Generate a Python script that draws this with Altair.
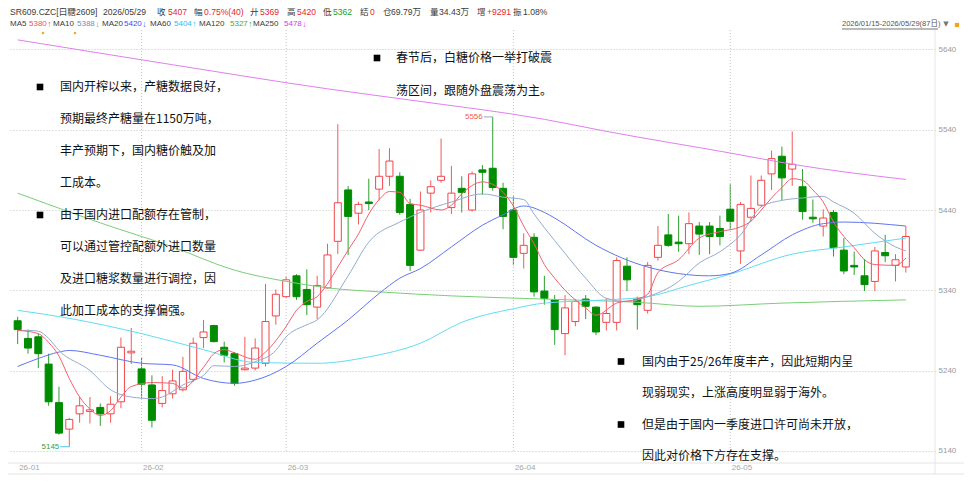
import altair as alt
import pandas as pd

# ---------------- data ----------------
opens = [5302, 5280, 5282, 5248, 5200, 5167, 5186, 5189, 5194, 5186,
         5201, 5262, 5242, 5222, 5199, 5211, 5216, 5229, 5281, 5296,
         5269, 5261, 5241, 5243, 5249, 5308, 5332, 5358, 5341, 5319,
         5343, 5401, 5465, 5436, 5450, 5466, 5482, 5482, 5447, 5390,
         5461, 5477, 5443, 5467, 5440, 5490, 5492, 5467, 5440, 5386,
         5406, 5339, 5328, 5286, 5301, 5329, 5319, 5300, 5300, 5370,
         5329, 5315, 5381, 5409, 5400, 5398, 5420, 5420, 5417, 5441,
         5389, 5431, 5446, 5485, 5507, 5491, 5469, 5431, 5420, 5437,
         5390, 5371, 5358, 5351, 5387, 5371, 5369]
highs = [5307, 5291, 5286, 5261, 5220, 5181, 5207, 5207, 5199, 5208,
         5281, 5293, 5256, 5234, 5233, 5241, 5257, 5281, 5303, 5297,
         5276, 5263, 5282, 5280, 5348, 5341, 5357, 5360, 5366, 5358,
         5398, 5547, 5470, 5450, 5479, 5516, 5517, 5487, 5454, 5463,
         5477, 5529, 5495, 5482, 5488, 5496, 5556, 5474, 5457, 5411,
         5411, 5358, 5334, 5334, 5329, 5334, 5320, 5330, 5381, 5381,
         5332, 5375, 5420, 5435, 5433, 5437, 5425, 5425, 5433, 5472,
         5450, 5483, 5483, 5514, 5519, 5538, 5491, 5453, 5441, 5440,
         5405, 5388, 5379, 5394, 5409, 5385, 5420]
lows = [5273, 5261, 5243, 5196, 5160, 5145, 5175, 5174, 5171, 5175,
        5193, 5248, 5205, 5169, 5194, 5205, 5214, 5226, 5268, 5275,
        5250, 5221, 5240, 5240, 5245, 5297, 5330, 5328, 5309, 5304,
        5342, 5385, 5384, 5422, 5440, 5452, 5470, 5434, 5364, 5389,
        5437, 5474, 5435, 5437, 5438, 5459, 5464, 5416, 5371, 5367,
        5332, 5322, 5272, 5259, 5295, 5304, 5284, 5290, 5290, 5339,
        5291, 5311, 5377, 5394, 5388, 5385, 5384, 5385, 5396, 5415,
        5373, 5426, 5444, 5465, 5452, 5470, 5428, 5424, 5407, 5382,
        5360, 5359, 5339, 5339, 5375, 5351, 5362]
closes = [5291, 5268, 5261, 5201, 5162, 5179, 5196, 5191, 5186, 5198,
          5269, 5264, 5223, 5178, 5215, 5227, 5239, 5274, 5288, 5276,
          5259, 5224, 5243, 5268, 5301, 5335, 5353, 5332, 5322, 5346,
          5384, 5449, 5432, 5447, 5448, 5482, 5501, 5437, 5371, 5440,
          5469, 5482, 5461, 5462, 5485, 5487, 5468, 5432, 5381, 5396,
          5338, 5330, 5291, 5318, 5326, 5320, 5288, 5311, 5377, 5353,
          5322, 5371, 5396, 5396, 5398, 5423, 5410, 5407, 5407, 5426,
          5447, 5442, 5477, 5504, 5480, 5497, 5438, 5429, 5430, 5393,
          5364, 5369, 5347, 5389, 5383, 5378, 5407]

month_labels = ["26-01", "26-02", "26-03", "26-04", "26-05"]
month_index = [0, 12, 26, 48, 69]

ma5_idx = [0, 2, 3, 4, 5, 6, 7, 8, 9, 10, 11, 13, 15, 16, 18, 19, 20, 21, 23, 24,
           26, 27, 28, 29, 30, 31, 32, 33, 34, 35, 36, 37, 38, 39, 41, 42, 43, 45, 46, 47,
           48, 49, 50, 51, 52, 53, 55, 56, 58, 60, 61, 62, 64, 66, 68, 70, 71, 72, 73, 74,
           75, 76, 77, 78, 79, 80, 81, 82, 83, 85, 86]
ma5_val = [5290, 5286, 5275, 5258, 5230, 5207, 5192, 5184, 5190, 5207, 5220, 5225, 5224, 5218, 5244, 5261, 5266, 5262, 5254, 5263,
           5295, 5315, 5326, 5332, 5348, 5369, 5390, 5410, 5435, 5453, 5463, 5462, 5448, 5446, 5440, 5446, 5460, 5475, 5472, 5462,
           5445, 5420, 5398, 5372, 5355, 5340, 5318, 5309, 5324, 5329, 5335, 5362, 5378, 5405, 5413, 5419, 5426, 5440, 5455, 5468,
           5479, 5477, 5465, 5450, 5425, 5407, 5393, 5378, 5372, 5371, 5380]

ma10_idx = [0, 1, 2, 3, 4, 7, 9, 11, 13, 14, 16, 18, 19, 21, 23, 25, 26, 28, 29, 32,
            34, 37, 39, 42, 45, 47, 49, 50, 51, 53, 55, 57, 59, 61, 64, 66, 68, 70, 72, 74,
            76, 78, 79, 81, 83, 85, 86]
ma10_val = [5290, 5290, 5289, 5280, 5265, 5240, 5216, 5207, 5205, 5207, 5222, 5234, 5246, 5245, 5251, 5265, 5282, 5297, 5303, 5358,
            5400, 5425, 5437, 5450, 5460, 5456, 5453, 5435, 5418, 5386, 5355, 5330, 5326, 5332, 5351, 5374, 5388, 5409, 5444, 5452,
            5455, 5457, 5450, 5436, 5411, 5394, 5389]

ma20_idx = [0, 2, 4, 5, 8, 12, 15, 18, 21, 23, 26, 29, 32, 35, 37, 39, 42, 45, 47, 49,
            51, 52, 56, 61, 67, 69, 72, 75, 78, 80, 86]
ma20_val = [5245, 5255, 5263, 5265, 5259, 5249, 5247, 5230, 5224, 5228, 5245, 5274, 5303, 5336, 5355, 5367, 5394, 5421, 5434, 5445,
            5437, 5430, 5396, 5369, 5358, 5361, 5384, 5409, 5423, 5425, 5420]

ma60_idx = [0, 5, 12, 18, 23, 29, 34, 39, 43, 48, 51, 57, 61, 65, 69, 75, 80, 86]
ma60_val = [5315, 5305, 5286, 5266, 5250, 5249, 5257, 5274, 5300, 5317, 5324, 5328, 5332, 5346, 5360, 5385, 5394, 5405]

ma120_idx = [0, 8, 15, 21, 26, 30, 35, 42, 51, 60, 66, 74, 86]
ma120_val = [5461, 5424, 5394, 5365, 5351, 5343, 5338, 5333, 5329, 5325, 5320, 5324, 5328]

ma250_idx = [0, 15, 30, 38, 51, 57, 69, 75, 86]
ma250_val = [5652, 5621, 5591, 5577, 5553, 5538, 5511, 5497, 5478]

y_ticks = [5140, 5240, 5340, 5440, 5540, 5640]

high_idx, high_val = [46], [5556]
low_idx, low_val = [5], [5145]

block1 = ["国内开榨以来，产糖数据良好，", "预期最终产糖量在1150万吨，", "丰产预期下，国内糖价触及加", "工成本。",
          "由于国内进口配额存在管制，", "可以通过管控配额外进口数量", "及进口糖浆数量进行调控，因", "此加工成本的支撑偏强。"]
block2 = ["春节后，白糖价格一举打破震", "荡区间，跟随外盘震荡为主。"]
block3 = ["国内由于25/26年度丰产，因此短期内呈", "现弱现实，上涨高度明显弱于海外。",
          "但是由于国内一季度进口许可尚未开放，", "因此对价格下方存在支撑。"]

hdr1 = ["SR609.CZC[白糖2609]", "2026/05/29", "收", "5407", "幅", "0.75%(40)", "开", "5369", "高", "5420",
        "低", "5362", "结", "0", "仓", "69.79万", "量", "34.43万", "增", "+9291", "振", "1.08%"]
hdr2 = ["MA5", "5380", "MA10", "5388", "MA20", "5420", "MA60", "5404", "MA120", "5327", "MA250", "5478"]
hdr2_arrows = ["↑", "↓", "↓", "↑", "↑", "↓"]
date_range = "2026/01/15-2026/05/29(87日)"

# ---------------- styling / layout ----------------
RED = "#f0464c"
GREEN = "#008c00"
WICK_RED = "#f25a5a"
WICK_GREEN = "#2f9e2f"
W, H = 927, 430
OX, OY = 8, 32          # page position of plot area
CJK = "Noto Sans CJK SC"
LAT = "Liberation Sans, Noto Sans CJK SC"

xs = alt.Scale(domain=[-0.45, 88.34], nice=False, zero=False)
ys = alt.Scale(domain=[5126.0, 5661.8], nice=False, zero=False)
X = alt.X("i:Q", scale=xs, axis=None)

df = pd.DataFrame({"i": list(range(len(opens))), "open": opens, "high": highs,
                   "low": lows, "close": closes})
up = "datum.close >= datum.open"

wicks = alt.Chart(df).mark_rule(strokeWidth=1).encode(
    x=X,
    y=alt.Y("low:Q", scale=ys, axis=alt.Axis(
        orient="right", values=y_ticks, format="d", grid=True, gridDash=[1, 2], gridColor="#c4c4c4",
        ticks=False, domain=False, labelColor="#9a9a9a", labelFontSize=8, labelFont="Liberation Sans",
        labelPadding=3, title=None)),
    y2="high:Q",
    color=alt.condition(up, alt.value(WICK_RED), alt.value(WICK_GREEN)),
)
bodies = alt.Chart(df).mark_bar(size=7, strokeWidth=1).encode(
    x=X, y=alt.Y("open:Q", scale=ys), y2="close:Q",
    fill=alt.condition(up, alt.value("white"), alt.value(GREEN)),
    stroke=alt.condition(up, alt.value(RED), alt.value(GREEN)),
)


def ma_line(idx, vals, color):
    d = pd.DataFrame({"i": idx, "v": vals})
    return alt.Chart(d).mark_line(strokeWidth=1, color=color, interpolate="monotone").encode(
        x=X, y=alt.Y("v:Q", scale=ys))


lines = [
    ma_line(ma250_idx, ma250_val, "#e27ef0"),
    ma_line(ma120_idx, ma120_val, "#78cf78"),
    ma_line(ma60_idx, ma60_val, "#62dcf2"),
    ma_line(ma20_idx, ma20_val, "#6174f2"),
    ma_line(ma10_idx, ma10_val, "#94abcf"),
    ma_line(ma5_idx, ma5_val, "#f0606e"),
]

months = pd.DataFrame({"i": month_index, "label": month_labels})
vgrid = alt.Chart(months).transform_filter("datum.i > 0").mark_rule(
    strokeDash=[1, 2], color="#c4c4c4").encode(x=X, y=alt.value(-2), y2=alt.value(419))
mlabels = alt.Chart(months).mark_text(
    align="left", baseline="middle", dx=1.5, fontSize=8, color="#a6a6a6", font="Liberation Sans"
).encode(x=X, y=alt.value(436), text="label:N")

one = pd.DataFrame({"k": [0]})
frame = [
    alt.Chart(one).mark_rule(color="#e6e6e6").encode(x=alt.value(W), y=alt.value(-2), y2=alt.value(H + 12)),
    alt.Chart(one).mark_rule(color="#e4e4e4").encode(x=alt.value(-8), x2=alt.value(W + 29), y=alt.value(H + 1)),
    alt.Chart(one).mark_rule(color="#e4e4e4").encode(x=alt.value(-8), x2=alt.value(W + 29), y=alt.value(H + 12)),
]

# high / low markers
hi = pd.DataFrame({"i": high_idx, "p": high_val, "t": [str(v) for v in high_val]})
lo = pd.DataFrame({"i": low_idx, "p": low_val, "t": [str(v) for v in low_val]})
marks_hl = [
    alt.Chart(hi).mark_rule(x2Offset=-9, color="#86a9c8").encode(x=X, x2="i:Q", y=alt.Y("p:Q", scale=ys)),
    alt.Chart(hi).mark_text(align="right", baseline="middle", dx=-10, fontSize=8, color="#ee5a5a",
                            font="Liberation Sans").encode(x=X, y=alt.Y("p:Q", scale=ys), text="t:N"),
    alt.Chart(lo).mark_rule(x2Offset=-9, color="#4cc4e0").encode(x=X, x2="i:Q", y=alt.Y("p:Q", scale=ys)),
    alt.Chart(lo).mark_text(align="right", baseline="middle", dx=-10, fontSize=8, color="#3a9e3a",
                            font="Liberation Sans").encode(x=X, y=alt.Y("p:Q", scale=ys), text="t:N"),
]

# annotation text blocks (page coordinates -> plot coordinates)
rows = []
for k, t in enumerate(block1):
    rows.append((60 - OX, 87 + 32 * k - OY, t))
for k, t in enumerate(block2):
    rows.append((396 - OX, 58 + 33 * k - OY, t))
for k, t in enumerate(block3):
    rows.append((642 - OX, 361.5 + 31.5 * k - OY, t))
notes = pd.DataFrame(rows, columns=["px", "py", "t"])
note_text = alt.Chart(notes).mark_text(align="left", baseline="middle", fontSize=12, font=CJK,
                                        color="#111111").encode(
    x=alt.X("px:Q", scale=None), y=alt.Y("py:Q", scale=None), text="t:N")
bul = pd.DataFrame({"px": [40 - OX, 40 - OX, 377 - OX, 621 - OX, 621 - OX],
                    "py": [87 - OY, 215 - OY, 58 - OY, 361.5 - OY, 424.5 - OY]})
bullets = alt.Chart(bul).mark_square(size=44, color="black", opacity=1).encode(
    x=alt.X("px:Q", scale=None), y=alt.Y("py:Q", scale=None))

# header
HT, HR, HG = "#3a3a3a", "#e5262e", "#1e9e1e"
h1x = [10, 103, 157, 168, 194, 204, 250, 260, 287, 297, 323, 333, 360, 370, 383, 391, 430, 439, 477, 487, 513, 523]
h1c = [HT, HT, HT, HR, HT, HR, HT, HR, HT, HR, HT, HG, HT, HR, HT, HT, HT, HT, HT, HR, HT, HT]
h2x = [10, 29, 53, 77, 102, 124, 150, 174, 199, 230, 253, 284]
h2c = [HT, "#f0506a", HT, "#6a90c8", HT, "#3a4ef0", HT, "#2cbde6", HT, "#3aae3a", HT, "#d03ce0"]
h1df = pd.DataFrame([(x - OX, 12 - OY, t, c) for x, t, c in zip(h1x, hdr1, h1c)],
                    columns=["px", "py", "t", "c"])
h2df = pd.DataFrame([(x - OX, 24 - OY, t, c) for x, t, c in zip(h2x, hdr2, h2c)],
                    columns=["px", "py", "t", "c"])
arr_x = [h2x[k] + 20.3 for k in range(1, 12, 2)]
arr_c = [h2c[k] for k in range(1, 12, 2)]
h3df = pd.DataFrame([(x - OX, 24 - OY, t, c) for x, t, c in zip(arr_x, hdr2_arrows, arr_c)],
                    columns=["px", "py", "t", "c"])


def header_layer(d, size, align="left", font=LAT):
    return alt.Chart(d).mark_text(align=align, baseline="middle", fontSize=size, font=font).encode(
        x=alt.X("px:Q", scale=None), y=alt.Y("py:Q", scale=None), text="t:N",
        color=alt.Color("c:N", scale=None))


header = [header_layer(h1df, 8.6), header_layer(h2df, 8),
          header_layer(h3df, 8.5, align="center", font="Liberation Sans")]
rng = pd.DataFrame({"px": [842 - OX], "py": [24 - OY], "t": [date_range]})
rng_text = alt.Chart(rng).mark_text(align="left", baseline="middle", fontSize=7.5, font=LAT,
                                    color="#555555").encode(
    x=alt.X("px:Q", scale=None), y=alt.Y("py:Q", scale=None), text="t:N")
extras = [
    alt.Chart(one).mark_rule(color="#777777").encode(x=alt.value(842 - OX), x2=alt.value(938 - OX), y=alt.value(29 - OY)),
    alt.Chart(one).mark_text(text="▼", fontSize=7, color="#777777", font="DejaVu Sans").encode(
        x=alt.value(946 - OX), y=alt.value(24 - OY)),
    alt.Chart(one).mark_square(size=18, color="#f2a516", opacity=1).encode(x=alt.value(957 - OX), y=alt.value(25 - OY)),
    alt.Chart(pd.DataFrame({"px": [43 - OX, 75 - OX]})).mark_circle(size=6, color="#f5a623", opacity=1).encode(
        x=alt.X("px:Q", scale=None), y=alt.value(33 - OY)),
]

chart = alt.layer(
    wicks, vgrid, *frame, bodies, *lines, *marks_hl, mlabels,
    note_text, bullets, *header, rng_text, *extras
).properties(
    width=W, height=H,
    padding={"left": 0, "top": 24, "right": 29, "bottom": 24},
    autosize=alt.AutoSizeParams(type="none"),
    background="white",
).configure_view(stroke=None)

chart.save("out.html", embed_options={"renderer": "svg", "actions": False})
